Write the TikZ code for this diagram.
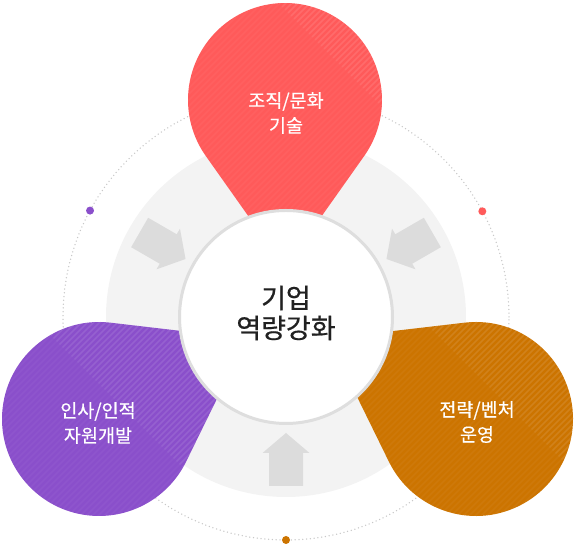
\documentclass[tikz,border=0pt]{standalone}
\usepackage{fontspec}
\setmainfont{Noto Sans CJK KR}
\newfontfamily\pinfont[FakeBold=0.4]{Noto Sans CJK KR}
\newfontfamily\corefont[FakeBold=0.6]{Noto Sans CJK KR}
\usepackage{xcolor}
\usetikzlibrary{calc}

\definecolor{pinred}{HTML}{FF5A5A}
\definecolor{pinpurple}{HTML}{8A4FCB}
\definecolor{pinorange}{HTML}{CC7400}
\definecolor{ringgray}{HTML}{F3F3F3}
\definecolor{arrowgray}{HTML}{DCDCDC}
\definecolor{edgegray}{HTML}{DEDEDE}
\definecolor{dotgray}{HTML}{C8C8C8}

\begin{document}
\begin{tikzpicture}[x=1pt, y=1pt,
  blobtext/.style={text=white, align=center, font=\pinfont\fontsize{18.5}{25}\selectfont},
  midtext/.style={text=black!87, align=center, font=\corefont\fontsize{27}{30}\selectfont},
  pinarrow/.style={fill=arrowgray},
  pindot/.style={circle, fill=#1, minimum size=8pt, inner sep=0pt},
  dotring/.style={dotgray, line width=1.5pt, line cap=round, dash pattern=on 0pt off 3.8pt}]

\useasboundingbox (0,0) rectangle (574,545);

\coordinate (m) at (286,228);
\coordinate (cr) at (285,445);
\coordinate (cp) at (99,126);
\coordinate (co) at (476,126);

\draw[dotring] (m) circle (223);
\fill[ringgray] (m) circle (180);

\foreach \a in {270,150,30}
  \fill[pinarrow, shift={(m)}, rotate=\a] (116,0) -- (136,23.5) -- (136,17) -- (169,17)
    -- (169,-17) -- (136,-17) -- (136,-23.5) -- cycle;

% pins
\foreach \c/\d/\col/\k in {cr/270/pinred/90, cp/28.6/pinpurple/35, co/151.4/pinorange/45}{
  \fill[\col] (\c) ++({\d+54.7}:97) arc[start angle=\d+54.7, end angle=\d+305.3, radius=97]
    -- ($(\c)+(\d:168)$) -- cycle;
  \begin{scope}
    \clip (\c) ++({\d+54.7}:97) arc[start angle=\d+54.7, end angle=\d+305.3, radius=97]
      -- ($(\c)+(\d:168)$) -- cycle;
    \foreach \s in {-330,-324,...,330}
      \draw[white, opacity=.04, line width=1.5pt, shift={(\c)}] (\s-170,-170) -- (\s+170,170);
    \clip[shift={(\c)}] (\k-200,200) -- (200,200) -- (200,\k-200) -- cycle;
    \foreach \s in {-330,-324,...,330}
      \draw[white, opacity=.07, line width=1.5pt, shift={(\c)}] (\s-170,-170) -- (\s+170,170);
  \end{scope}
}

\node[circle, fill=white, draw=edgegray, line width=3pt, minimum size=213pt, inner sep=0pt] (core) at (m) {};

\node[pindot=pinred] (dr) at ($(m)+(28.3:223)$) {};
\node[pindot=pinpurple] (dp) at ($(m)+(151.5:223)$) {};
\node[pindot=pinorange] (do) at ($(m)+(270:223)$) {};

\node[blobtext] (tr) at (286,432) {조직/문화\\기술};
\node[blobtext] (tp) at (98,122) {인사/인적\\자원개발};
\node[blobtext] (to) at (477,123) {전략/벤처\\운영};
\node[midtext] (tc) at (286,232) {기업\\역량강화};

\end{tikzpicture}
\end{document}
